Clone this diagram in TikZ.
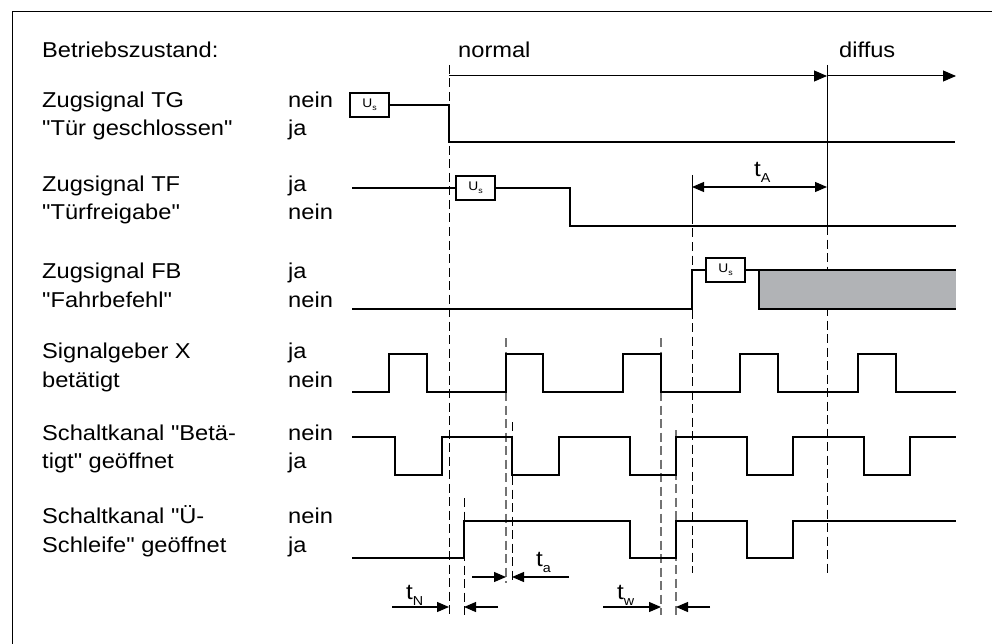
\documentclass[tikz,border=0pt]{standalone}
\usepackage{fontspec}
\newfontfamily\lib[FakeStretch=1.1]{Liberation Sans}
\usetikzlibrary{arrows.meta}
\definecolor{fillgray}{RGB}{177,179,182}
\newcommand{\usig}{\fontsize{12.5}{12.5}\selectfont U\raisebox{-3pt}{\fontsize{8}{8}\selectfont s}}
\newcommand{\tlab}[1]{\fontsize{22}{22}\selectfont t\raisebox{-6pt}{\fontsize{13}{13}\selectfont #1}}
\begin{document}
\begin{tikzpicture}[x=1pt,y=-1pt,
  font=\lib\fontsize{21.5}{24}\selectfont,
  sig/.style={line width=2.2pt},
  dsh/.style={line width=1pt, dash pattern=on 9pt off 4.5pt},
  dshg/.style={dsh, draw=black!55, line width=1.3pt},
  usbox/.style={draw, line width=1.8pt, minimum width=39pt, minimum height=24pt, inner sep=0pt, fill=white},
  lbl/.style={anchor=base west, inner sep=0pt},
  smalltip/.tip={Triangle[length=12pt,width=10pt]},
  bigtip/.tip={Triangle[length=13pt,width=11pt]},
  dimarrow/.style={line width=1.1pt, -{smalltip}}
]
\useasboundingbox (0,0) rectangle (992,644);
% frame
\draw[line width=1pt] (12,644) -- (12,12) -- (992,12);

% left labels
\node[lbl] (bz) at (42,58) {Betriebszustand:};
\node[lbl] (l1a) at (42,108) {Zugsignal TG};
\node[lbl] (l1b) at (42,136) {"Tür geschlossen"};
\node[lbl] (l2a) at (42,192) {Zugsignal TF};
\node[lbl] (l2b) at (42,220) {"Türfreigabe"};
\node[lbl] (l3a) at (42,278) {Zugsignal FB};
\node[lbl] (l3b) at (42,307) {"Fahrbefehl"};
\node[lbl] (l4a) at (42,358) {Signalgeber X};
\node[lbl] (l4b) at (42,387) {betätigt};
\node[lbl] (l5a) at (42,440) {Schaltkanal "Betä-};
\node[lbl] (l5b) at (42,468) {tigt" geöffnet};
\node[lbl] (l6a) at (42,523) {Schaltkanal "Ü-};
\node[lbl] (l6b) at (42,552) {Schleife" geöffnet};

\node[lbl] (v1a) at (288,108) {nein};
\node[lbl] (v1b) at (288,136) {ja};
\node[lbl] (v2a) at (288,192) {ja};
\node[lbl] (v2b) at (288,220) {nein};
\node[lbl] (v3a) at (288,278) {ja};
\node[lbl] (v3b) at (288,307) {nein};
\node[lbl] (v4a) at (288,358) {ja};
\node[lbl] (v4b) at (288,387) {nein};
\node[lbl] (v5a) at (288,440) {nein};
\node[lbl] (v5b) at (288,468) {ja};
\node[lbl] (v6a) at (288,523) {nein};
\node[lbl] (v6b) at (288,552) {ja};

\node[lbl] (normal) at (458,58) {normal};
\node[lbl] (diffus) at (839,58) {diffus};

% vertical reference lines
\draw[dsh] (449,65) -- (449,615);
\draw[dsh] (464,498) -- (464,615);
\draw[dshg] (506,338) -- (506,583);
\draw[dsh] (512,422) -- (512,583);
\draw[dshg] (661,338) -- (661,615);
\draw[dshg] (676,430) -- (676,615);
\draw[line width=1pt] (692,175) -- (692,215);
\draw[dsh] (692,215) -- (692,573);
\draw[line width=1pt] (827,65) -- (827,226);
\draw[dsh] (827,226) -- (827,573);

% Betriebszustand arrows
\coordinate (n0) at (449,76);
\coordinate (n1) at (827,76);
\coordinate (n2) at (956,76);
\draw[line width=1pt, -{bigtip}] (n0) -- (n1);
\draw[line width=1pt, -{bigtip}] (n1) -- (n2);

% TG
\node[usbox] (usTG) at (369.5,105) {\usig};
\draw[sig] (usTG.east) -- (449,105) -- (449,142) -- (955,142);

% TF
\node[usbox] (usTF) at (475.5,188) {\usig};
\draw[sig] (352,188) -- (usTF.west);
\draw[sig] (usTF.east) -- (570,188) -- (570,226) -- (956,226);

% tA
\coordinate (tA0) at (692,187);
\coordinate (tA1) at (827,187);
\draw[line width=1.1pt, {smalltip}-{smalltip}] (tA0) -- (tA1);
\node[lbl] (tAl) at (754,177) {\tlab{A}};

% FB
\fill[fillgray] (759,270) rectangle (956,309);
\node[usbox] (usFB) at (725.5,270) {\usig};
\draw[sig] (352,309) -- (692,309) -- (692,270) -- (usFB.west);
\draw[sig] (usFB.east) -- (956,270);
\draw[sig] (759,270) -- (759,309) -- (956,309);

% Signalgeber X
\draw[sig] (352,392) -- (389,392) -- (389,354) -- (427,354) -- (427,392)
  -- (506,392) -- (506,354) -- (543,354) -- (543,392)
  -- (623,392) -- (623,354) -- (661,354) -- (661,392)
  -- (740,392) -- (740,354) -- (778,354) -- (778,392)
  -- (858,392) -- (858,354) -- (896,354) -- (896,392) -- (956,392);

% Schaltkanal Betaetigt
\draw[sig] (352,437) -- (395,437) -- (395,475) -- (442,475) -- (442,437)
  -- (512,437) -- (512,475) -- (559,475) -- (559,437)
  -- (630,437) -- (630,475) -- (676,475) -- (676,437)
  -- (747,437) -- (747,475) -- (793,475) -- (793,437)
  -- (864,437) -- (864,475) -- (910,475) -- (910,437) -- (956,437);

% Schaltkanal Ue-Schleife
\draw[sig] (352,558) -- (464,558) -- (464,521) -- (630,521) -- (630,558)
  -- (676,558) -- (676,521) -- (747,521) -- (747,558)
  -- (793,558) -- (793,521) -- (956,521);

% time markers
\coordinate (tN0) at (392,607);
\coordinate (tN1) at (449,607);
\coordinate (tN2) at (498,607);
\coordinate (tN3) at (464,607);
\draw[dimarrow] (tN0) -- (tN1);
\draw[dimarrow] (tN2) -- (tN3);
\node[lbl] (tNl) at (406,599) {\tlab{N}};

\coordinate (ta0) at (472,577);
\coordinate (ta1) at (506,577);
\coordinate (ta2) at (569,577);
\coordinate (ta3) at (512,577);
\draw[dimarrow] (ta0) -- (ta1);
\draw[dimarrow] (ta2) -- (ta3);
\node[lbl] (tal) at (536,566) {\tlab{a}};

\coordinate (tw0) at (603,607);
\coordinate (tw1) at (661,607);
\coordinate (tw2) at (710,607);
\coordinate (tw3) at (676,607);
\draw[dimarrow] (tw0) -- (tw1);
\draw[dimarrow] (tw2) -- (tw3);
\node[lbl] (twl) at (617,599) {\tlab{w}};
\end{tikzpicture}
\end{document}
